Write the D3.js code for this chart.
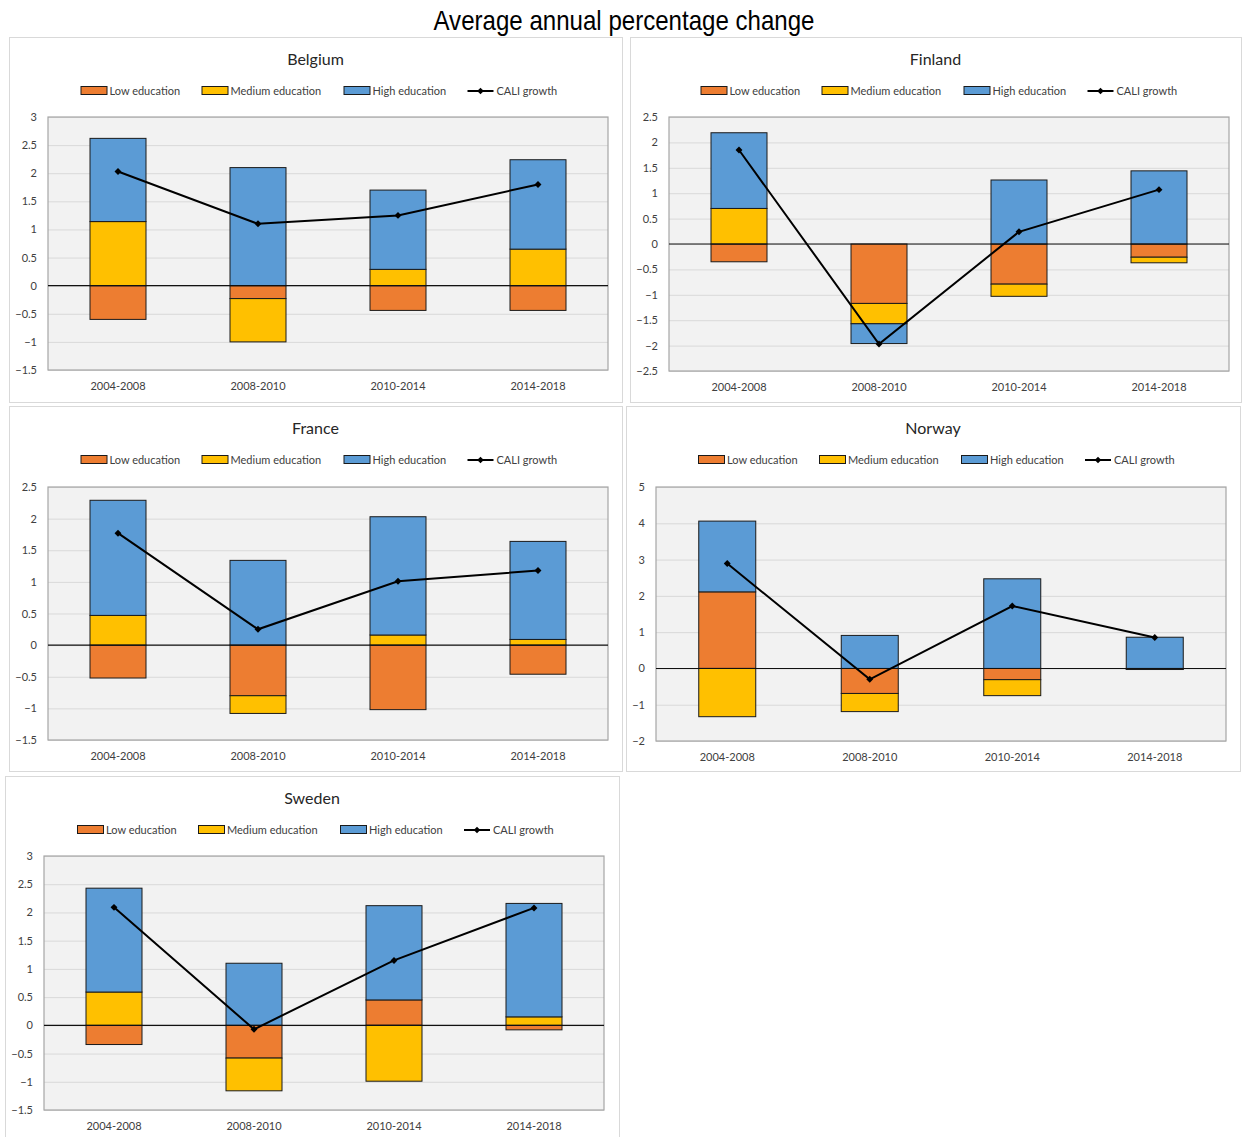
<!DOCTYPE html>
<html>
<head>
<meta charset="utf-8">
<script src="https://cdn.jsdelivr.net/npm/d3@7"></script>
<style>
  html, body { margin: 0; padding: 0; background: #ffffff; }
  svg { display: block; }
  text { font-family: Lato, "Open Sans", sans-serif; fill: #404040; }
</style>
</head>
<body>
<svg id="chart" width="1242" height="1137"></svg>
<script>
// Periods on the x axis
const periods = ["2004-2008", "2008-2010", "2010-2014", "2014-2018"];
const countries = ["Belgium", "Finland", "France", "Norway", "Sweden"];
const seriesNames = ["Low education", "Medium education", "High education"];
const lineName = "CALI growth";

// Contributions by education level, one row per country (same order as countries)
const lowEducation = [
  [-0.60, -0.23, -0.44, -0.44],
  [-0.35, -1.17, -0.79, -0.26],
  [-0.52, -0.80, -1.02, -0.46],
  [ 2.11, -0.69, -0.31, -0.02],
  [-0.34, -0.58,  0.45, -0.08]
];
const mediumEducation = [
  [ 1.14, -0.77,  0.29,  0.65],
  [ 0.70, -0.40, -0.24, -0.11],
  [ 0.47, -0.28,  0.16,  0.09],
  [-1.33, -0.50, -0.44, -0.01],
  [ 0.59, -0.58, -0.99,  0.15]
];
const highEducation = [
  [ 1.48,  2.10,  1.41,  1.59],
  [ 1.49, -0.39,  1.26,  1.44],
  [ 1.82,  1.34,  1.87,  1.55],
  [ 1.95,  0.91,  2.47,  0.86],
  [ 1.84,  1.10,  1.67,  2.01]
];
const caliGrowth = [
  [ 2.03,  1.10,  1.25,  1.80],
  [ 1.85, -1.97,  0.24,  1.07],
  [ 1.77,  0.25,  1.01,  1.18],
  [ 2.89, -0.30,  1.72,  0.85],
  [ 2.09, -0.07,  1.15,  2.08]
];

// Value axis ticks per country
const yTicks = [
  [-1.5, -1, -0.5, 0, 0.5, 1, 1.5, 2, 2.5, 3],
  [-2.5, -2, -1.5, -1, -0.5, 0, 0.5, 1, 1.5, 2, 2.5],
  [-1.5, -1, -0.5, 0, 0.5, 1, 1.5, 2, 2.5],
  [-2, -1, 0, 1, 2, 3, 4, 5],
  [-1.5, -1, -0.5, 0, 0.5, 1, 1.5, 2, 2.5, 3]
];

const colors = ["#ED7D31", "#FFC000", "#5B9BD5"];

// Panel frames and plot rectangles: [x, y, width, height]
const layout = [
  { box: [9, 37, 613, 365],   plot: [48, 117, 560, 253] },
  { box: [630, 37, 611, 365], plot: [669, 117, 560, 254] },
  { box: [9, 406, 613, 365],  plot: [48, 487, 560, 253] },
  { box: [626, 406, 614, 365], plot: [656, 487, 570, 254] },
  { box: [5, 776, 614, 364],  plot: [44, 856, 560, 254] }
];

const svg = d3.select("#chart");

// Main title
svg.append("text")
  .attr("x", 624).attr("y", 30)
  .attr("text-anchor", "middle")
  .attr("textLength", 381).attr("lengthAdjust", "spacingAndGlyphs")
  .style("font-family", "'Liberation Sans Narrow', 'Liberation Sans', sans-serif")
  .style("font-size", "28px")
  .style("fill", "#000")
  .text("Average annual percentage change");

const legendOffsets = [0, 121, 263, 387];

countries.forEach((country, ci) => {
  const L = layout[ci];
  const [bx, by, bw, bh] = L.box;
  const [px, py, pw, ph] = L.plot;
  const g = svg.append("g");

  // Panel frame
  g.append("rect")
    .attr("x", bx + 0.5).attr("y", by + 0.5)
    .attr("width", bw).attr("height", bh)
    .attr("fill", "#fff").attr("stroke", "#d9d9d9");

  // Panel title
  g.append("text")
    .attr("x", bx + bw / 2).attr("y", by + 28)
    .attr("text-anchor", "middle")
    .style("font-size", "16px").style("fill", "#262626")
    .text(country);

  // Legend
  const lx0 = bx + bw / 2 - 235;
  const ly = by + 54;
  const leg = g.append("g");
  seriesNames.forEach((name, i) => {
    const x = lx0 + legendOffsets[i];
    leg.append("rect")
      .attr("x", x + 0.5).attr("y", ly - 4.5)
      .attr("width", 26).attr("height", 8)
      .attr("fill", colors[i]).attr("stroke", "#1a1a1a").attr("stroke-width", 1);
    leg.append("text")
      .attr("x", x + 29).attr("y", ly + 4)
      .style("font-size", "11px")
      .text(name);
  });
  {
    const x = lx0 + legendOffsets[3];
    leg.append("line")
      .attr("x1", x).attr("x2", x + 26).attr("y1", ly).attr("y2", ly)
      .attr("stroke", "#000").attr("stroke-width", 2);
    leg.append("path")
      .attr("d", d3.symbol(d3.symbolSquare, 22)())
      .attr("transform", `translate(${x + 13},${ly}) rotate(45)`)
      .attr("fill", "#000");
    leg.append("text")
      .attr("x", x + 29).attr("y", ly + 4)
      .style("font-size", "11px")
      .text(lineName);
  }

  // Scales
  const ticks = yTicks[ci];
  const x = d3.scaleBand().domain(periods)
    .range([px, px + pw]).paddingInner(0.6).paddingOuter(0.3);
  const y = d3.scaleLinear().domain(d3.extent(ticks)).range([py + ph, py]);

  // Plot background and gridlines
  g.append("rect")
    .attr("x", px).attr("y", py).attr("width", pw).attr("height", ph)
    .attr("fill", "#f2f2f2");
  g.append("g")
    .attr("transform", `translate(${px},0)`)
    .call(d3.axisLeft(y).tickValues(ticks).tickSize(-pw).tickFormat(""))
    .call(a => a.select(".domain").remove())
    .call(a => a.selectAll("line").attr("stroke", "#d9d9d9").attr("stroke-width", 1));

  // Stacked contributions (positive above zero, negative below)
  const rows = periods.map((p, j) => ({
    period: p,
    "Low education": lowEducation[ci][j],
    "Medium education": mediumEducation[ci][j],
    "High education": highEducation[ci][j]
  }));
  const stacked = d3.stack().keys(seriesNames).offset(d3.stackOffsetDiverging)(rows);
  stacked.forEach((layer, i) => {
    g.append("g").selectAll("rect").data(layer).join("rect")
      .attr("x", d => x(d.data.period))
      .attr("width", x.bandwidth())
      .attr("y", d => y(Math.max(d[0], d[1])))
      .attr("height", d => Math.abs(y(d[0]) - y(d[1])))
      .attr("fill", colors[i])
      .attr("stroke", "#1a1a1a").attr("stroke-width", 1);
  });

  // Plot border
  g.append("rect")
    .attr("x", px).attr("y", py).attr("width", pw).attr("height", ph)
    .attr("fill", "none").attr("stroke", "#a6a6a6").attr("stroke-width", 1.2);

  // Zero line
  g.append("line")
    .attr("x1", px).attr("x2", px + pw)
    .attr("y1", y(0)).attr("y2", y(0))
    .attr("stroke", "#111").attr("stroke-width", 1.1);

  // Value axis labels
  const yAxis = g.append("g")
    .attr("transform", `translate(${px},0)`)
    .call(d3.axisLeft(y).tickValues(ticks).tickSize(0).tickPadding(11).tickFormat(d3.format("")));
  yAxis.select(".domain").remove();
  yAxis.selectAll("text")
    .style("font-family", "Lato, sans-serif").style("font-size", "11px").attr("fill", "#404040");

  // Period labels
  const xAxis = g.append("g")
    .attr("transform", `translate(0,${py + ph})`)
    .call(d3.axisBottom(x).tickSize(0).tickPadding(12));
  xAxis.select(".domain").remove();
  xAxis.selectAll("text")
    .style("font-family", "Lato, sans-serif").style("font-size", "11px").attr("fill", "#404040");

  // CALI growth line with diamond markers
  const pts = periods.map((p, j) => ({ p, v: caliGrowth[ci][j] }));
  g.append("path")
    .datum(pts)
    .attr("fill", "none").attr("stroke", "#000").attr("stroke-width", 2)
    .attr("d", d3.line().x(d => x(d.p) + x.bandwidth() / 2).y(d => y(d.v)));
  g.append("g").selectAll("path").data(pts).join("path")
    .attr("d", d3.symbol(d3.symbolSquare, 24)())
    .attr("transform", d => `translate(${x(d.p) + x.bandwidth() / 2},${y(d.v)}) rotate(45)`)
    .attr("fill", "#000");
});
</script>
</body>
</html>
